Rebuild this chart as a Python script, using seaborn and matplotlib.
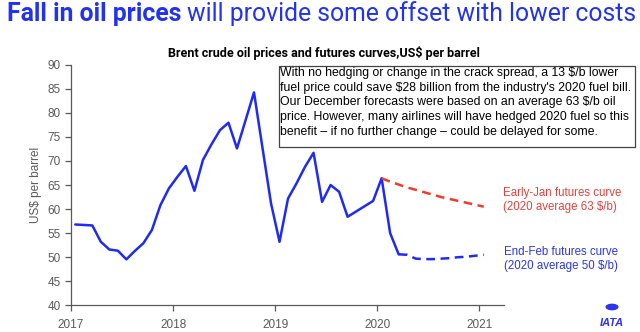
import numpy as np
import pandas as pd
import seaborn as sns
import matplotlib.pyplot as plt

# ---- data ----
hist_months = pd.date_range("2017-01-01", "2020-03-01", freq="MS")
hist_prices = [56.8, 56.7, 56.6, 53.2, 51.6, 51.35, 49.55, 51.3, 52.9, 55.65, 60.8, 64.3,
               66.7, 68.95, 63.8, 70.2, 73.45, 76.4, 77.95, 72.6, 78.4, 84.25, 72.7, 61.2,
               53.2, 62.2, 65.35, 68.8, 71.7, 61.5, 65.0, 63.6, 58.4, 59.5, 60.6, 61.7,
               66.4, 55.0, 50.6]

jan_months = pd.date_range("2020-01-01", "2021-01-01", freq="MS")
jan_futures = [66.4, 65.7, 65.1, 64.5, 64.0, 63.5, 63.0, 62.5, 62.1, 61.7, 61.3, 60.9, 60.5]

feb_months = pd.date_range("2020-03-01", "2021-01-01", freq="MS")
feb_futures = [50.6, 50.5, 49.7, 49.6, 49.6, 49.7, 49.8, 50.0, 50.1, 50.3, 50.5]

year_ticks = [2017, 2018, 2019, 2020, 2021]
y_ticks = [40, 45, 50, 55, 60, 65, 70, 75, 80, 85, 90]


def to_year(idx):
    return idx.year + (idx.month - 0.5) / 12.0


hist = pd.DataFrame({"t": to_year(hist_months), "price": hist_prices})
janf = pd.DataFrame({"t": to_year(jan_months), "price": jan_futures})
febf = pd.DataFrame({"t": to_year(feb_months), "price": feb_futures})

BLUE = "#1F2BF5"
RED = "#EE3B2E"
GRAY = "#595959"

sns.set_theme(style="white")
plt.rcParams["font.family"] = ["Liberation Sans", "DejaVu Sans"]

fig = plt.figure(figsize=(6.4, 3.32), dpi=100)
ax = fig.add_axes([0.111, 0.0804, 0.6765, 0.7246])

sns.lineplot(data=hist, x="t", y="price", ax=ax, color=BLUE, lw=1.8)
sns.lineplot(data=janf, x="t", y="price", ax=ax, color=RED, lw=1.8, linestyle=(0, (3.5, 2.2)))
sns.lineplot(data=febf, x="t", y="price", ax=ax, color=BLUE, lw=1.8, linestyle=(0, (3.5, 2.2)))

ax.set_xlim(2017, 2021.24)
ax.set_ylim(40, 90)
ax.set_xticks(year_ticks)
ax.set_xticklabels([str(y) for y in year_ticks])
ax.set_yticks(y_ticks)
ax.set_xlabel("")
ax.set_ylabel("US$ per barrel", color=GRAY, fontsize=8.5, labelpad=4)
for s in ["top", "right"]:
    ax.spines[s].set_visible(False)
for s in ["left", "bottom"]:
    ax.spines[s].set_color(GRAY)
    ax.spines[s].set_linewidth(0.9)
ax.tick_params(axis="both", which="both", colors=GRAY, labelsize=8.5, length=4, width=0.9,
               direction="out", left=True, bottom=True)
ax.tick_params(axis="x", pad=6)

# curve labels
fig.text(503 / 640, 1 - 200 / 332, "Early-Jan futures curve\n(2020 average 63 $/b)",
         color="#E8413A", fontsize=8.3, ha="left", va="center", linespacing=1.3)
fig.text(504 / 640, 1 - 259 / 332, "End-Feb futures curve\n(2020 average 50 $/b)",
         color="#2B35F0", fontsize=8.3, ha="left", va="center", linespacing=1.3)

# text box
box_text = ("With no hedging or change in the crack spread, a 13 $/b lower\n"
            "fuel price could save $28 billion from the industry's 2020 fuel bill.\n"
            "Our December forecasts were based on an average 63 $/b oil\n"
            "price. However, many airlines will have hedged 2020 fuel so this\n"
            "benefit \u2013 if no further change \u2013 could be delayed for some.")
fig.patches.append(plt.Rectangle((279 / 640, 1 - 147 / 332), (635 - 279) / 640, (147 - 66) / 332,
                                 transform=fig.transFigure, fill=True, facecolor="white",
                                 edgecolor="#444444", lw=0.9, zorder=5))
fig.text(280 / 640, 1 - 67 / 332, box_text, fontsize=8.8, color="black", ha="left", va="top",
         linespacing=1.3, zorder=6)

# titles
fig.text(7 / 640, 1 - 14 / 332, "Fall in oil prices", fontsize=17.8, fontweight="bold",
         color="#2233F0", ha="left", va="center", family=["Roboto", "DejaVu Sans"])
t1 = fig.texts[-1]
fig.canvas.draw()
bb = t1.get_window_extent()
fig.text(bb.x1 / 640 + 6 / 640, 1 - 14 / 332, "will provide some offset with lower costs",
         fontsize=17.8, color="#2233F0", ha="left", va="center", family=["Roboto", "DejaVu Sans"])
fig.text(324 / 640, 1 - 53 / 332, "Brent crude oil prices and futures curves,US$ per barrel",
         fontsize=9, fontweight="bold", color="black", ha="center", va="center",
         family=["Roboto", "DejaVu Sans"])

# logo placeholder
fig.patches.append(plt.Circle((612 / 640, 1 - 307 / 332), 6.5 / 640, transform=fig.transFigure,
                              facecolor="#2B35F0", edgecolor="none"))
fig.text(612 / 640, 1 - 323 / 332, "IATA", fontsize=8, fontweight="bold", style="italic",
         color="#2B35F0", ha="center", va="center")

fig.savefig("out.png", dpi=100)
